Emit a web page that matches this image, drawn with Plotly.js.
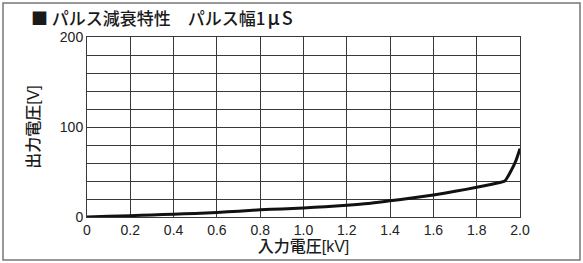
<!DOCTYPE html>
<html>
<head>
<meta charset="utf-8">
<script src="https://cdn.plot.ly/plotly-3.0.1.min.js"></script>
<style>
  html, body { margin: 0; padding: 0; background: #fff; }
  #chart { width: 583px; height: 263px; }
</style>
</head>
<body>
<div id="chart"></div>
<script>
// Data
const inputVoltageKV = [0, 0.1, 0.2, 0.3, 0.4, 0.5, 0.6, 0.7, 0.8, 0.9, 1.0, 1.1, 1.2, 1.3, 1.4, 1.5, 1.6, 1.7, 1.8, 1.9, 1.93, 1.96, 1.98, 2.0];
const outputVoltageV = [0, 0.7, 1.5, 2.3, 3, 4, 5, 6.5, 8, 9, 10, 11.5, 13, 15, 18, 21, 24.5, 28.5, 33, 38, 40, 52, 62, 76];
const xTickVals = [0, 0.2, 0.4, 0.6, 0.8, 1.0, 1.2, 1.4, 1.6, 1.8, 2.0];
const xTickText = ["0", "0.2", "0.4", "0.6", "0.8", "1.0", "1.2", "1.4", "1.6", "1.8", "2.0"];
const yTickVals = [0, 100, 200];
const yTickText = ["0", "100", "200"];
const chartTitleMain = "■ パルス減衰特性　パルス幅";
const chartTitleUnit = ["1", "μ", "S"];
const xTitle = "入力電圧[kV]";
const yTitle = "出力電圧[V]";

const W = 583, H = 263;
const M = { l: 87, r: 63, t: 37, b: 46 };
const pw = W - M.l - M.r, ph = H - M.t - M.b;
const px = v => (v - M.l) / pw;
const py = v => (H - M.b - v) / ph;

const cjkFirst = '"Noto Sans CJK JP", "Liberation Sans", sans-serif';
const latinFirst = '"Liberation Sans", "Noto Sans CJK JP", Arial, sans-serif';
const gridColor = '#3a3a3a';

const titleText = chartTitleMain +
  '<span style="letter-spacing:2px">' + chartTitleUnit[0] + '</span>' +
  '<span style="font-size:19px;letter-spacing:2px">' + chartTitleUnit[1] + '</span>' +
  '<span style="font-size:18px">' + chartTitleUnit[2] + '</span>';

const trace = {
  x: inputVoltageKV,
  y: outputVoltageV,
  type: 'scatter',
  mode: 'lines',
  line: { color: '#111', width: 3, shape: 'spline', smoothing: 0.6 },
  hoverinfo: 'skip'
};

const layout = {
  width: W, height: H,
  margin: M,
  paper_bgcolor: '#fff',
  plot_bgcolor: '#fff',
  showlegend: false,
  title: {
    text: titleText,
    font: { family: cjkFirst, size: 17, color: '#1a1a1a', weight: 500 },
    xref: 'container', yref: 'container',
    x: 31 / W, xanchor: 'left',
    y: 1 - 19 / H, yanchor: 'middle'
  },
  xaxis: {
    range: [0, 2.0],
    tickmode: 'array', tickvals: xTickVals, ticktext: xTickText,
    showgrid: true, gridcolor: gridColor, gridwidth: 1,
    zeroline: false, showline: true, linecolor: gridColor, linewidth: 1, mirror: true,
    ticks: '', ticklen: 0,
    tickfont: { family: '"Liberation Sans", Arial, sans-serif', size: 14, color: '#222' },
    title: { text: xTitle, font: { family: latinFirst, size: 16, color: '#1a1a1a', weight: 500 }, standoff: 4 },
    fixedrange: true, automargin: false
  },
  yaxis: {
    range: [0, 200],
    tickmode: 'array', tickvals: yTickVals, ticktext: yTickText,
    showgrid: true, gridcolor: gridColor, gridwidth: 1,
    minor: { dtick: 20, tick0: 0, showgrid: true, gridcolor: gridColor, gridwidth: 1, ticks: '' },
    zeroline: false, showline: true, linecolor: gridColor, linewidth: 1, mirror: true,
    ticks: '', ticklen: 0,
    tickfont: { family: '"Liberation Sans", Arial, sans-serif', size: 14, color: '#222' },
    title: { text: yTitle, font: { family: latinFirst, size: 16, color: '#1a1a1a', weight: 500 }, standoff: 16 },
    fixedrange: true, automargin: false
  },
  shapes: [{
    type: 'rect', xref: 'paper', yref: 'paper',
    x0: px(3), x1: px(580), y0: py(260), y1: py(3),
    line: { color: '#777', width: 1.5 }, fillcolor: 'rgba(0,0,0,0)', layer: 'below'
  }]
};

Plotly.newPlot('chart', [trace], layout, { staticPlot: true, displayModeBar: false });
</script>
</body>
</html>
